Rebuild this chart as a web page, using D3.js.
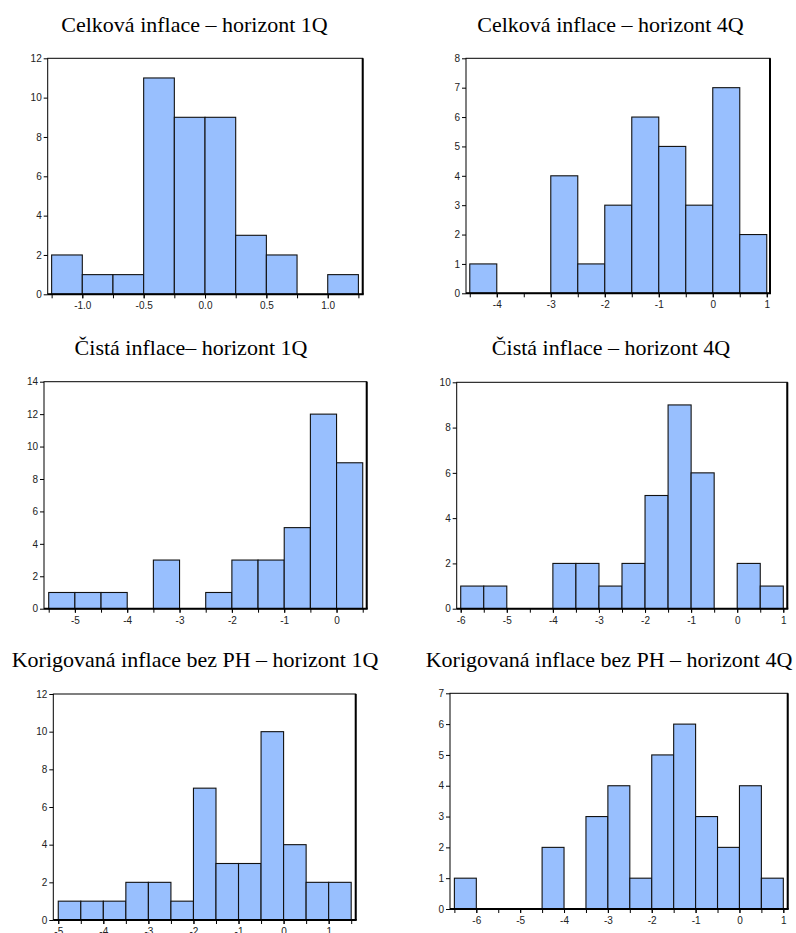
<!DOCTYPE html>
<html>
<head>
<meta charset="utf-8">
<script src="https://cdn.jsdelivr.net/npm/d3@7"></script>
<style>
  html, body { margin: 0; padding: 0; background: #fff; }
  svg { display: block; }
</style>
</head>
<body>
<svg id="chart" width="796" height="933"></svg>
<script>
// ---- DATA ----
const titles = [
  "Celková inflace – horizont 1Q",
  "Celková inflace – horizont 4Q",
  "Čistá inflace– horizont 1Q",
  "Čistá inflace – horizont 4Q",
  "Korigovaná inflace bez PH – horizont 1Q",
  "Korigovaná inflace bez PH – horizont 4Q"
];
// histogram bin starts and widths
const binStarts = [-1.25, -4.5, -5.5, -6.0, -5.0, -6.5];
const binWidths = [0.25, 0.5, 0.5, 0.5, 0.5, 0.5];
// frequency counts per bin
const counts1 = [2, 1, 1, 11, 9, 9, 3, 2, 0, 1];
const counts2 = [1, 0, 0, 4, 1, 3, 6, 5, 3, 7, 2];
const counts3 = [1, 1, 1, 0, 3, 0, 1, 3, 3, 5, 12, 9];
const counts4 = [1, 1, 0, 0, 2, 2, 1, 2, 5, 9, 6, 0, 2, 1];
const counts5 = [1, 1, 1, 2, 2, 1, 7, 3, 3, 10, 4, 2, 2];
const counts6 = [1, 0, 0, 0, 2, 0, 3, 4, 1, 5, 6, 3, 2, 4, 1];
const allCounts = [counts1, counts2, counts3, counts4, counts5, counts6];
// axis extents and tick labels
const xDomains = [[-1.282, 1.285], [-4.57, 1.06], [-5.59, 0.576], [-6.087, 1.087], [-5.11, 1.6], [-6.6, 1.1]];
const yMaxes = [12, 8, 14, 10, 12, 7];
const yTickSteps = [2, 1, 2, 2, 2, 1];
const xLabelTicks = [
  [-1.0, -0.5, 0.0, 0.5, 1.0],
  [-4, -3, -2, -1, 0, 1],
  [-5, -4, -3, -2, -1, 0],
  [-6, -5, -4, -3, -2, -1, 0, 1],
  [-5, -4, -3, -2, -1, 0, 1],
  [-6, -5, -4, -3, -2, -1, 0, 1]
];
const xLabelFormats = [".1f", "d", "d", "d", "d", "d"];

// ---- LAYOUT (pixel boxes of each plot frame) ----
const frames = [
  {l: 47.7, t: 58.3, r: 362.7, b: 294.3, tx: 194.5, ty: 31.7},
  {l: 466,  t: 58.3, r: 770,   b: 293.3, tx: 610.5, ty: 31.7},
  {l: 44,   t: 381.7, r: 366.7, b: 608.7, tx: 191,  ty: 355},
  {l: 456.7, t: 382.3, r: 787.3, b: 608.7, tx: 611, ty: 355},
  {l: 53.3, t: 694, r: 355.7, b: 920, tx: 195, ty: 666.7},
  {l: 450,  t: 693.3, r: 787.7, b: 909, tx: 609, ty: 666.7}
];

const svg = d3.select("#chart");
const barFill = "#98bffe";
const labelColor = "#222";
const hyphenFmt = spec => { const f = d3.format(spec); return v => f(v).replace("\u2212", "-"); };

frames.forEach((f, i) => {
  const counts = allCounts[i];
  const x = d3.scaleLinear().domain(xDomains[i]).range([f.l, f.r]);
  const y = d3.scaleLinear().domain([0, yMaxes[i]]).range([f.b, f.t]);
  const g = svg.append("g");

  // title
  svg.append("text")
    .attr("x", f.tx).attr("y", f.ty)
    .attr("text-anchor", "middle")
    .style("font-family", "'Liberation Serif', 'Times New Roman', serif")
    .style("font-size", "22px")
    .style("fill", "#000")
    .text(titles[i]);

  // bars
  const bins = counts.map((c, k) => ({
    x0: binStarts[i] + k * binWidths[i],
    x1: binStarts[i] + (k + 1) * binWidths[i],
    c: c
  })).filter(d => d.c > 0);

  g.selectAll("rect.bar").data(bins).enter().append("rect")
    .attr("class", "bar")
    .attr("x", d => x(d.x0))
    .attr("y", d => y(d.c))
    .attr("width", d => x(d.x1) - x(d.x0))
    .attr("height", d => y(0) - y(d.c))
    .attr("fill", barFill)
    .attr("stroke", "#111")
    .attr("stroke-width", 1.1);

  // frame
  g.append("rect")
    .attr("x", f.l).attr("y", f.t)
    .attr("width", f.r - f.l).attr("height", f.b - f.t)
    .attr("fill", "none").attr("stroke", "#000").attr("stroke-width", 1);
  g.append("line").attr("x1", f.r).attr("x2", f.r).attr("y1", f.t).attr("y2", f.b)
    .attr("stroke", "#000").attr("stroke-width", 2);

  // y axis
  const yTicks = d3.range(0, yMaxes[i] + 0.001, yTickSteps[i]);
  const yAxis = d3.axisLeft(y).tickValues(yTicks).tickSize(4).tickPadding(2).tickFormat(hyphenFmt("d"));
  const ya = svg.append("g").attr("transform", `translate(${f.l},0)`).call(yAxis);
  ya.select(".domain").remove();

  // x axis: minor ticks at every bin edge, labels at integer/half positions
  const edges = d3.range(0, counts.length + 1).map(k => binStarts[i] + k * binWidths[i]);
  const xMinor = d3.axisBottom(x).tickValues(edges).tickSize(4).tickFormat("");
  const xm = svg.append("g").attr("transform", `translate(0,${f.b})`).call(xMinor);
  xm.select(".domain").remove();
  const xAxis = d3.axisBottom(x).tickValues(xLabelTicks[i]).tickSize(4).tickPadding(4)
    .tickFormat(hyphenFmt(xLabelFormats[i]));
  const xa = svg.append("g").attr("transform", `translate(0,${f.b})`).call(xAxis);
  xa.select(".domain").remove();

  // bottom axis line (heavier)
  svg.append("line").attr("x1", f.l).attr("x2", f.r + 1).attr("y1", f.b).attr("y2", f.b)
    .attr("stroke", "#000").attr("stroke-width", 2);

  [ya, xm, xa].forEach(a => {
    a.selectAll("text")
      .style("font-family", "'Liberation Sans', Arial, sans-serif")
      .style("font-size", "10px")
      .style("fill", labelColor);
    a.selectAll("line").attr("stroke", "#000");
  });
});
</script>
</body>
</html>
